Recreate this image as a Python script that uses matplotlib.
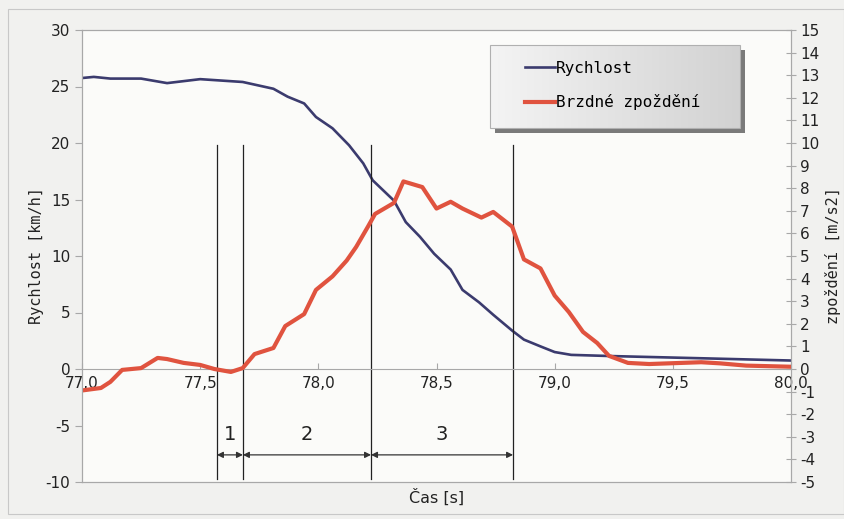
import numpy as np
import matplotlib
matplotlib.use("Agg")
import matplotlib.pyplot as plt
from matplotlib.patches import Rectangle

plt.rcParams["axes.unicode_minus"] = False

# speed [km/h] on the left axis
t_speed = [77.00, 77.05, 77.12, 77.25, 77.36, 77.50, 77.68, 77.81, 77.87, 77.94,
           77.99, 78.06, 78.13, 78.19, 78.23, 78.32, 78.37, 78.43, 78.49, 78.56,
           78.61, 78.68, 78.74, 78.82, 78.87, 78.94, 79.00, 79.07, 79.23, 79.62, 80.00]
speed = [25.75, 25.85, 25.7, 25.7, 25.3, 25.65, 25.4, 24.8, 24.1, 23.5,
         22.3, 21.3, 19.8, 18.2, 16.7, 14.9, 13.0, 11.7, 10.2, 8.8,
         7.0, 5.9, 4.8, 3.4, 2.6, 2.0, 1.5, 1.25, 1.15, 0.95, 0.75]

# deceleration [m/s2] on the right axis
t_dec = [77.00, 77.08, 77.12, 77.17, 77.25, 77.32, 77.36, 77.43, 77.50, 77.56,
         77.63, 77.68, 77.73, 77.81, 77.86, 77.94, 77.99, 78.06, 78.12, 78.16,
         78.21, 78.24, 78.32, 78.36, 78.44, 78.50, 78.56, 78.61, 78.69, 78.74,
         78.82, 78.87, 78.94, 79.00, 79.06, 79.12, 79.18, 79.23, 79.31, 79.40,
         79.62, 79.70, 79.81, 80.00]
dec = [-0.95, -0.84, -0.57, -0.04, 0.04, 0.49, 0.44, 0.27, 0.18, 0.0,
       -0.13, 0.04, 0.66, 0.93, 1.9, 2.43, 3.5, 4.1, 4.8, 5.4,
       6.3, 6.86, 7.35, 8.3, 8.05, 7.1, 7.4, 7.1, 6.7, 6.95,
       6.3, 4.85, 4.45, 3.25, 2.52, 1.64, 1.15, 0.58, 0.27, 0.22,
       0.3, 0.25, 0.15, 0.1]

# phase boundaries and labels
phase_t = [77.571, 77.681, 78.223, 78.824]
phase_labels = ["1", "2", "3"]

xticks = [77.0, 77.5, 78.0, 78.5, 79.0, 79.5, 80.0]

blue = "#3b3b6e"
red = "#e0533f"
grey = "#a8a8a8"

fig = plt.figure(figsize=(8.45, 5.19), dpi=100, facecolor="#f1f1ef")
# outer chart frame
fig.patches.append(Rectangle((8 / 845, 1 - 514 / 519), 836 / 845, 505 / 519,
                             transform=fig.transFigure, fill=False,
                             edgecolor="#c8c8c8", lw=0.8))

ax = fig.add_axes([82 / 845, 1 - 482 / 519, 709 / 845, 452 / 519])
ax.set_facecolor("#fbfbf9")
ax2 = ax.twinx()

ax.plot(t_speed, speed, color=blue, lw=1.9, solid_joinstyle="round", label="Rychlost")
ax2.plot(t_dec, dec, color=red, lw=3.0, solid_joinstyle="round", label="Brzdné zpoždění")

ax.set_xlim(77.0, 80.0)
ax.set_ylim(-10, 30)
ax2.set_ylim(-5, 15)
ax.set_yticks(range(-10, 31, 5))
ax2.set_yticks(range(-5, 16))

ax.set_xticks(xticks)
ax.set_xticklabels([f"{v:.1f}".replace(".", ",") for v in xticks])

# x axis sits on zero, frame drawn separately
ax.spines["bottom"].set_position(("data", 0))
ax.axhline(-10, color=grey, lw=0.8, clip_on=False)
for sp in ["left", "right", "top", "bottom"]:
    ax.spines[sp].set_color(grey)
    ax.spines[sp].set_linewidth(0.8)
for sp in ax2.spines.values():
    sp.set_color(grey)
    sp.set_linewidth(0.8)

ax.tick_params(axis="x", direction="in", length=4, color=grey, labelsize=11,
               labelcolor="#222222", pad=5)
ax.tick_params(axis="y", direction="out", length=5, color=grey, labelsize=11,
               labelcolor="#222222")
ax2.tick_params(axis="y", direction="inout", length=7, color=grey, labelsize=11,
                labelcolor="#222222", pad=3)

ax.set_ylabel("Rychlost [km/h]", family="DejaVu Sans Mono", fontsize=11,
              color="#222222")
ax.yaxis.set_label_coords((44 - 82) / 709, 0.5)
ax2.set_ylabel("zpoždění [m/s2]", family="DejaVu Sans Mono", fontsize=11,
               color="#222222")
ax2.yaxis.set_label_coords((825 - 82) / 709, (482 - 256) / 452)
fig.text(437 / 845, 1 - 497 / 519, "Čas [s]", ha="center", va="center",
         fontsize=11.5, color="#222222")

# phase lines, arrows and numbers
for t in phase_t:
    ax.plot([t, t], [19.8, -9.7], color="#222222", lw=0.9)
for i, lab in enumerate(phase_labels):
    a, b = phase_t[i], phase_t[i + 1]
    ax.annotate("", xy=(a, -7.6), xytext=(b, -7.6),
                arrowprops=dict(arrowstyle="<|-|>", color="#333333", lw=0.9,
                                mutation_scale=9, shrinkA=0, shrinkB=0))
    ax.text((a + b) / 2, -5.8, lab, ha="center", va="center", fontsize=14,
            color="#222222")

# legend box with shadow
bx0, bx1 = (490 - 82) / 709, (740 - 82) / 709
by0, by1 = (482 - 128) / 452, (482 - 45) / 452
ax2.add_patch(Rectangle((bx0 + 5 / 709, by0 - 5 / 452), bx1 - bx0, by1 - by0,
                        transform=ax2.transAxes, facecolor="#7a7a7a",
                        edgecolor="none", zorder=5))
grad = np.linspace(0, 1, 256).reshape(1, -1)
ax2.imshow(grad, cmap=matplotlib.colors.LinearSegmentedColormap.from_list(
    "g", ["#f4f4f4", "#d2d2d2"]), extent=(bx0, bx1, by0, by1),
    transform=ax2.transAxes, aspect="auto", zorder=6)
ax2.add_patch(Rectangle((bx0, by0), bx1 - bx0, by1 - by0, transform=ax2.transAxes,
                        fill=False, edgecolor="#b0b0b0", lw=0.8, zorder=7))
ax2.set_xlim(77.0, 80.0)
ax2.set_ylim(-5, 15)

h1, l1 = ax.get_legend_handles_labels()
h2, l2 = ax2.get_legend_handles_labels()
leg = ax2.legend(h1 + h2, l1 + l2, loc="upper left",
                 bbox_to_anchor=((512 - 82) / 709, (482 - 48) / 452),
                 frameon=False, prop={"family": "DejaVu Sans Mono", "size": 11.5},
                 handlelength=1.9, handletextpad=0.05, labelspacing=1.15,
                 borderpad=0.3)
leg.set_zorder(8)

fig.savefig("out.png", dpi=100, facecolor=fig.get_facecolor())
